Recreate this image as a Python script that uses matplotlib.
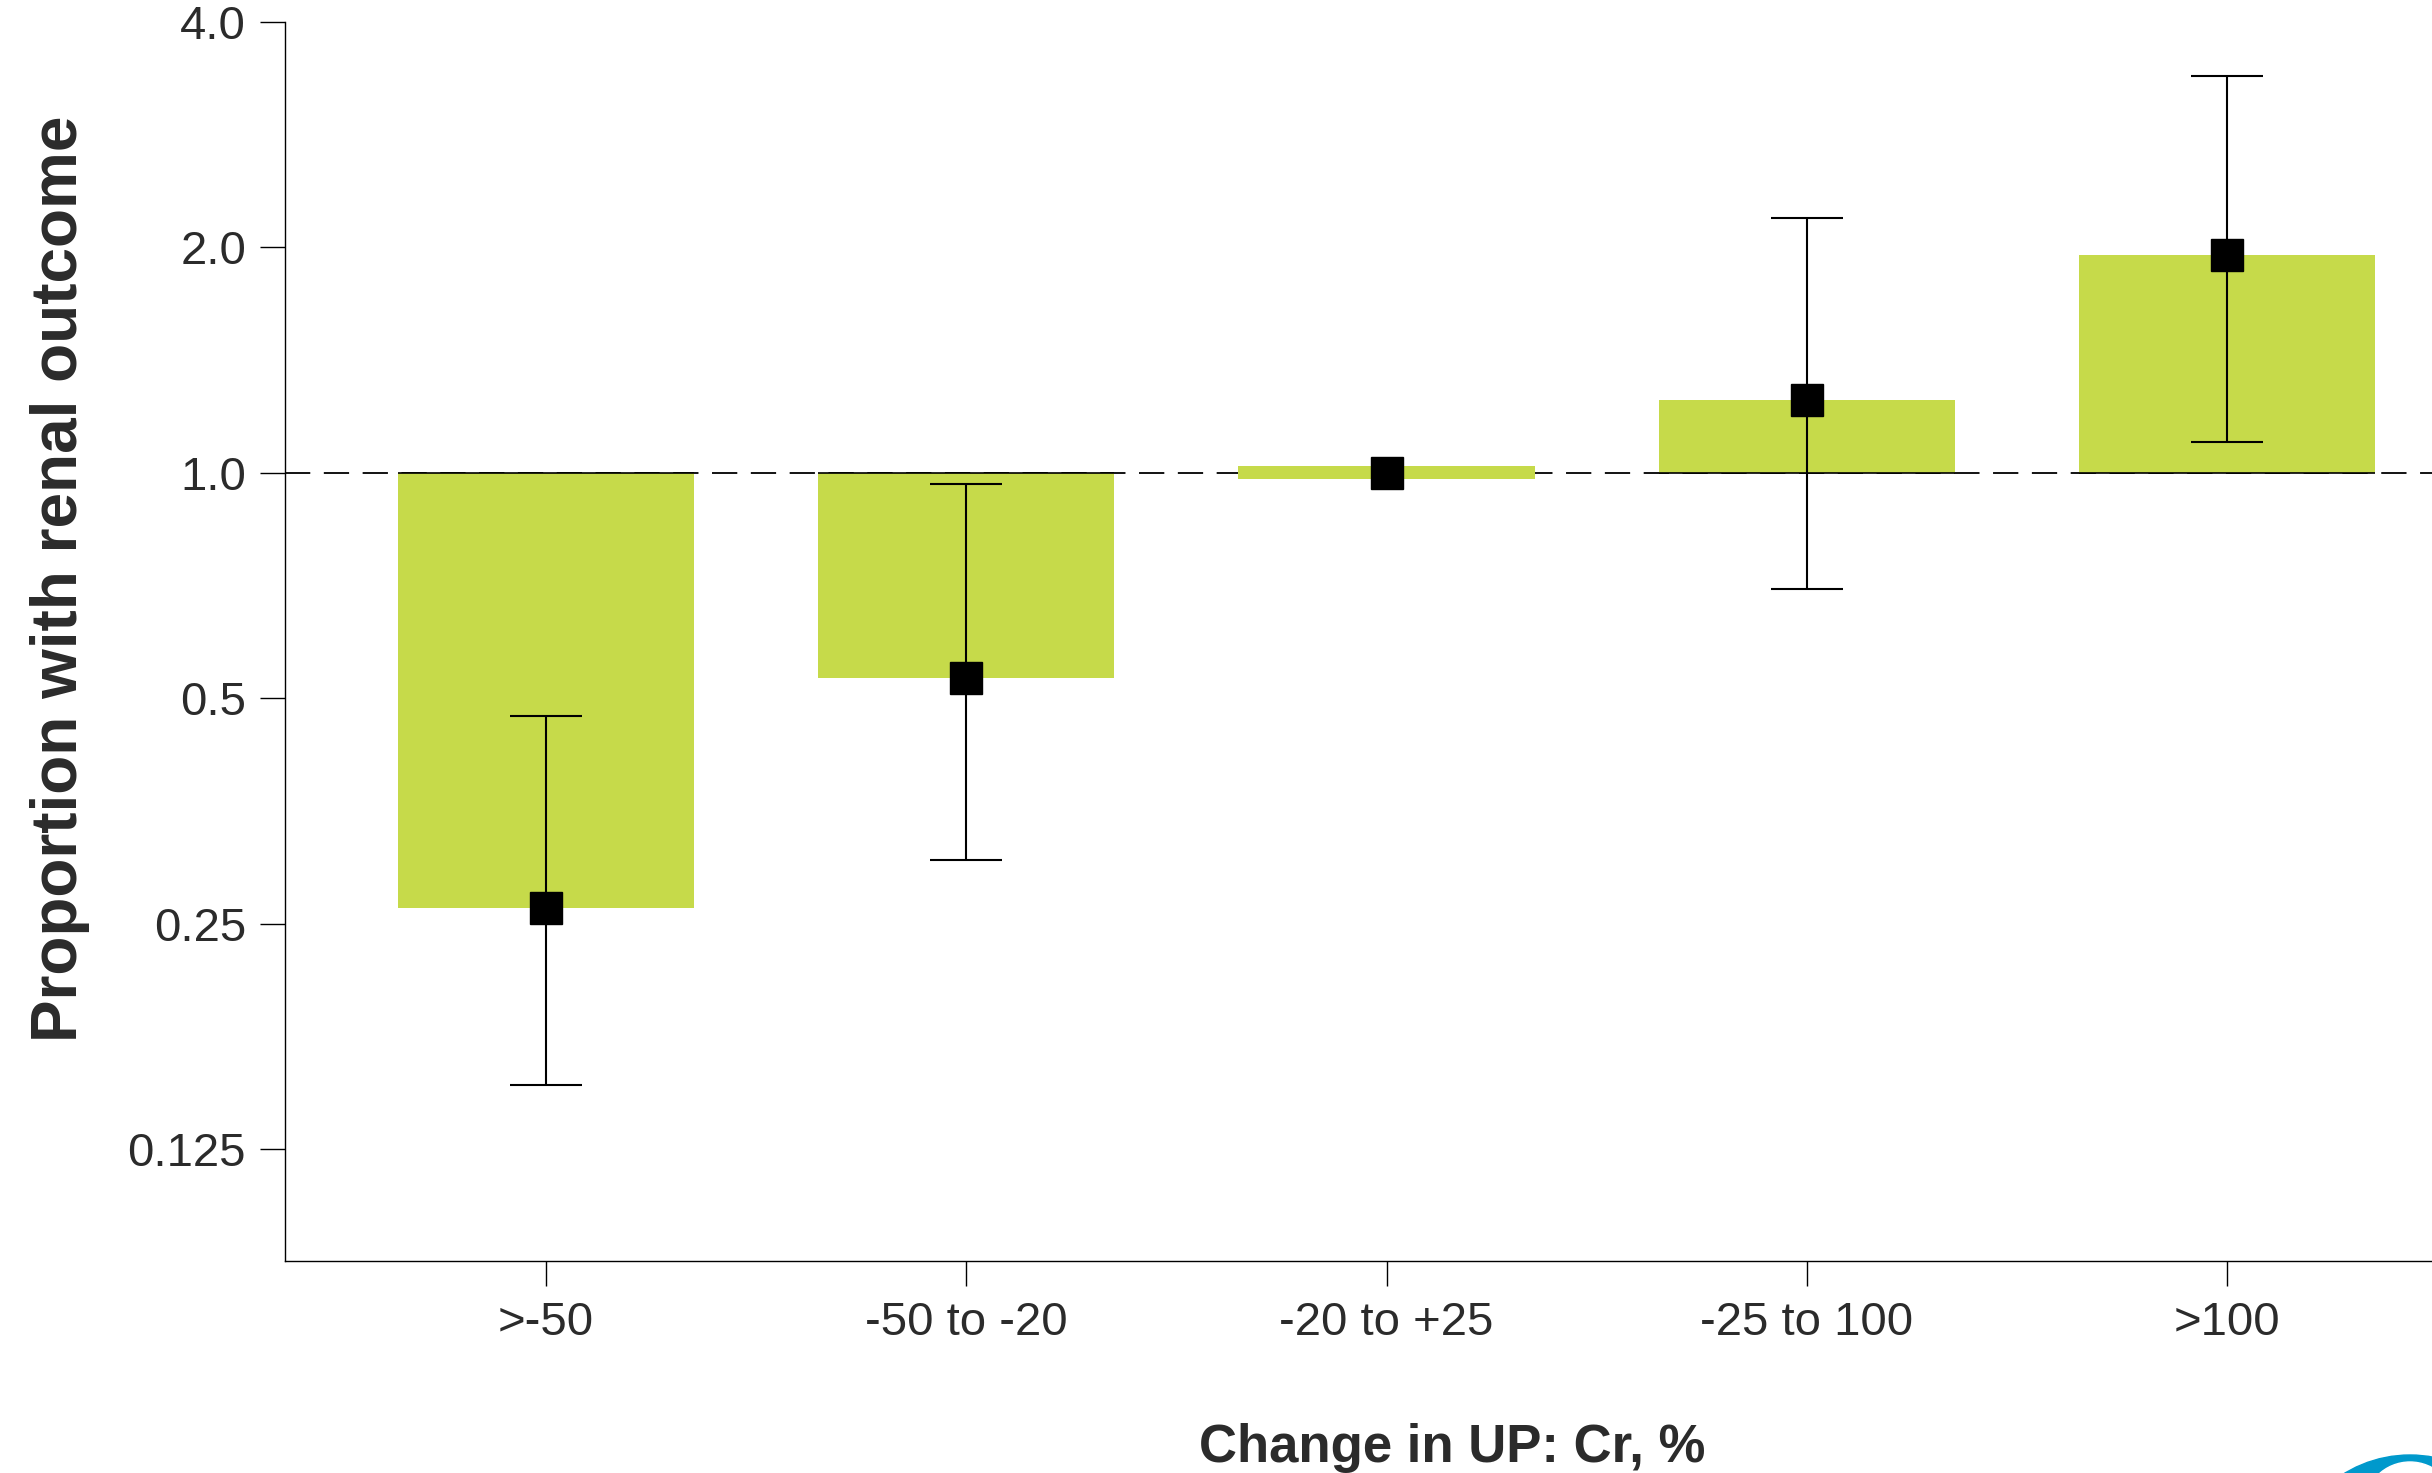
import numpy as np
import matplotlib
matplotlib.use("Agg")
import matplotlib.pyplot as plt
from matplotlib.patches import Circle

# data
groups = [">-50", "-50 to -20", "-20 to +25", "-25 to 100", ">100"]
ratio = [0.262, 0.532, 1.0, 1.25, 1.95]
ci_low = [0.152, 0.304, np.nan, 0.70, 1.10]
ci_high = [0.473, 0.967, np.nan, 2.19, 3.39]
ytick_vals = [0.125, 0.25, 0.5, 1.0, 2.0, 4.0]
ytick_labels = ["0.125", "0.25", "0.5", "1.0", "2.0", "4.0"]

bar_color = "#C6DA4A"
text_color = "#2b2b2b"
plt.rcParams["font.family"] = ["Liberation Sans", "DejaVu Sans"]

W, H = 2432, 1473
fig = plt.figure(figsize=(W / 100, H / 100), dpi=100)
ax = fig.add_axes([285 / W, 1 - 1261 / H, 1 - 285 / W, (1261 - 21.7) / H])

x = np.arange(len(groups))
ratio = np.array(ratio)
width = 0.705

# bars from the reference line 1.0 to the value (thin band when value is 1)
lo = np.where(ratio == 1.0, 1 / 1.021, np.minimum(ratio, 1.0))
hi = np.where(ratio == 1.0, 1.021, np.maximum(ratio, 1.0))
ax.bar(x, hi - lo, bottom=lo, width=width, color=bar_color, zorder=2)

ax.axhline(1.0, color="black", lw=1.3, dashes=(14, 7.5), zorder=1)
solid = ratio != 1.0
ax.hlines(np.ones(solid.sum()), x[solid] - width / 2, x[solid] + width / 2,
          color="black", lw=1.2, zorder=3)

cl = np.array(ci_low)
ch = np.array(ci_high)
m = ~np.isnan(cl)
ax.errorbar(x[m], ratio[m], yerr=[ratio[m] - cl[m], ch[m] - ratio[m]], fmt="none",
            ecolor="black", elinewidth=1.5, capsize=26, capthick=1.5, zorder=4)
ax.plot(x, ratio, "s", color="black", ms=23, zorder=5)

ax.set_yscale("log", base=2)
ax.set_ylim(0.0886, 4.0)
ax.set_xlim((285 - 546) / 420.25, (W - 546) / 420.25)
ax.set_yticks(ytick_vals)
ax.set_yticklabels(ytick_labels)
ax.minorticks_off()
ax.set_xticks(x)
ax.set_xticklabels(groups)

for s in ["top", "right"]:
    ax.spines[s].set_visible(False)
for s in ["left", "bottom"]:
    ax.spines[s].set_linewidth(1.0)
ax.tick_params(axis="both", length=18, width=1.0, labelsize=34, labelcolor=text_color)
ax.tick_params(axis="y", pad=10)
ax.tick_params(axis="x", pad=11)

fig.text(60 / W, 1 - 579 / H, "Proportion with renal outcome", rotation=90,
         ha="center", va="center", fontsize=46, fontweight="bold", color=text_color)
fig.text(1452 / W, 1 - 1462 / H, "Change in UP: Cr, %", ha="center", va="baseline",
         fontsize=38, fontweight="bold", color=text_color)

# logo fragment in the bottom right corner
tr = fig.dpi_scale_trans
fig.patches.append(Circle((24.10, (H - 1581) / 100), 1.26, color="#0099CC", transform=tr))
fig.patches.append(Circle((24.10, (H - 1508) / 100), 0.46, color="white", transform=tr))

fig.savefig("out.png", dpi=100)
